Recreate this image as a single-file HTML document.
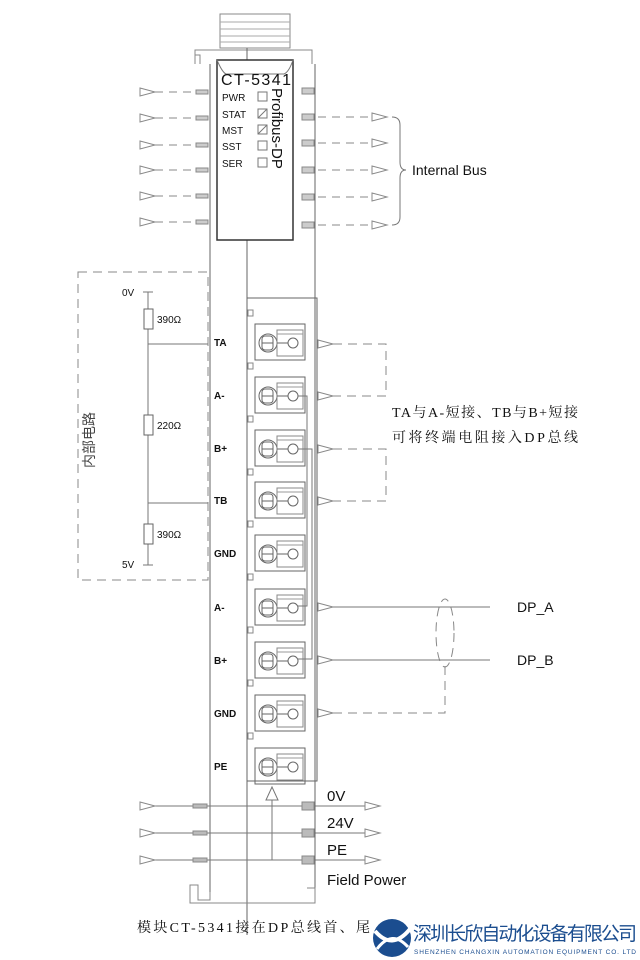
<!DOCTYPE html>
<html><head><meta charset="utf-8"><style>
html,body{margin:0;padding:0;background:#fff;width:640px;height:960px;overflow:hidden}
svg text{font-family:"Liberation Sans","Noto Sans CJK SC",sans-serif;fill:#111;stroke:none}
.s{font-family:"Liberation Serif","Noto Serif CJK SC",serif !important}
</style></head><body>
<svg width="640" height="960" viewBox="0 0 640 960" xmlns="http://www.w3.org/2000/svg" fill="none" stroke="#777" stroke-width="1">
<defs>
<g id="tri"><path d="M0,-4 L15,0 L0,4 Z" fill="#fff" stroke="#888"/></g>
<g id="term">
 <rect x="0" y="-18" width="50" height="36" stroke="#666"/>
 <circle cx="13" cy="1" r="9" stroke="#666"/>
 <rect x="7" y="-6" width="11" height="14" rx="3" stroke="#666"/>
 <line x1="7" y1="1" x2="18" y2="1" stroke="#666"/>
 <rect x="22" y="-12" width="26" height="26" stroke="#888"/>
 <line x1="22" y1="-8" x2="48" y2="-8" stroke="#999"/>
 <circle cx="38" cy="1" r="5" stroke="#666"/>
 <line x1="22" y1="1" x2="33" y2="1" stroke="#666"/>
</g>
</defs>
<rect x="220" y="14" width="70" height="34" stroke="#888"/>
<g stroke="#aaa"><line x1="220" y1="22" x2="290" y2="22"/><line x1="220" y1="29" x2="290" y2="29"/><line x1="220" y1="36" x2="290" y2="36"/><line x1="220" y1="42" x2="290" y2="42"/></g>
<path d="M195,64 L195,50 L312,50 L312,64" stroke="#888"/>
<path d="M195,64 L195,55 L200,55 L200,64" stroke="#888"/>
<path d="M210,64 L210,892 M315,64 L315,800" stroke="#666"/>
<line x1="247" y1="48" x2="247" y2="60" stroke="#666"/>
<line x1="247" y1="240" x2="247" y2="935" stroke="#666"/>
<rect x="217" y="60" width="76" height="180" stroke="#333" stroke-width="1.5"/>
<path d="M217,60 Q222,72 226,74 L284,74 Q289,72 293,60" stroke="#777"/>
<text x="221" y="85" font-size="16" textLength="70">CT-5341</text>
<g font-size="10"><text x="222" y="101">PWR</text><text x="222" y="118">STAT</text><text x="222" y="134">MST</text><text x="222" y="150">SST</text><text x="222" y="167">SER</text></g>
<g stroke="#777"><rect x="258" y="92" width="9" height="9"/><rect x="258" y="109" width="9" height="9"/><rect x="258" y="125" width="9" height="9"/><rect x="258" y="141" width="9" height="9"/><rect x="258" y="158" width="9" height="9"/>
<line x1="258" y1="118" x2="267" y2="109"/><line x1="258" y1="134" x2="267" y2="125"/></g>
<text transform="translate(272,88) rotate(90)" font-size="15">Profibus-DP</text>
<g fill="#ccc" stroke="#888">
<rect x="302" y="88" width="12" height="6"/><rect x="302" y="114" width="12" height="6"/><rect x="302" y="140" width="12" height="6"/><rect x="302" y="167" width="12" height="6"/><rect x="302" y="194" width="12" height="6"/><rect x="302" y="222" width="12" height="6"/>
</g>
<g stroke="#888" stroke-dasharray="8,6">
<line x1="318" y1="117" x2="370" y2="117"/><line x1="318" y1="143" x2="370" y2="143"/><line x1="318" y1="170" x2="370" y2="170"/><line x1="318" y1="197" x2="370" y2="197"/><line x1="318" y1="225" x2="370" y2="225"/>
</g>
<use href="#tri" x="372" y="117"/><use href="#tri" x="372" y="143"/><use href="#tri" x="372" y="170"/><use href="#tri" x="372" y="197"/><use href="#tri" x="372" y="225"/>
<path d="M392,117 Q400,117 400,125 L400,162 Q400,170 406,170 Q400,170 400,178 L400,217 Q400,225 392,225" stroke="#777"/>
<text x="412" y="175" font-size="14">Internal Bus</text>
<g fill="#ccc" stroke="#888"><rect x="196" y="90" width="12" height="4"/><rect x="196" y="116" width="12" height="4"/><rect x="196" y="143" width="12" height="4"/><rect x="196" y="168" width="12" height="4"/><rect x="196" y="194" width="12" height="4"/><rect x="196" y="220" width="12" height="4"/></g>
<g stroke="#888" stroke-dasharray="8,6">
<line x1="155" y1="92" x2="196" y2="92"/><line x1="155" y1="118" x2="196" y2="118"/><line x1="155" y1="145" x2="196" y2="145"/><line x1="155" y1="170" x2="196" y2="170"/><line x1="155" y1="196" x2="196" y2="196"/><line x1="155" y1="222" x2="196" y2="222"/>
</g>
<use href="#tri" x="140" y="92"/><use href="#tri" x="140" y="118"/><use href="#tri" x="140" y="145"/><use href="#tri" x="140" y="170"/><use href="#tri" x="140" y="196"/><use href="#tri" x="140" y="222"/>
<rect x="247" y="298" width="70" height="483" stroke="#666"/>
<use href="#term" x="255" y="342"/><use href="#term" x="255" y="395"/><use href="#term" x="255" y="448"/><use href="#term" x="255" y="500"/><use href="#term" x="255" y="553"/><use href="#term" x="255" y="607"/><use href="#term" x="255" y="660"/><use href="#term" x="255" y="713"/><use href="#term" x="255" y="766"/>
<g stroke="#888"><rect x="248" y="310" width="5" height="6"/><rect x="248" y="363" width="5" height="6"/><rect x="248" y="416" width="5" height="6"/><rect x="248" y="469" width="5" height="6"/><rect x="248" y="521" width="5" height="6"/><rect x="248" y="574" width="5" height="6"/><rect x="248" y="627" width="5" height="6"/><rect x="248" y="680" width="5" height="6"/><rect x="248" y="733" width="5" height="6"/></g>
<g font-size="10" font-weight="bold"><text x="214" y="346">TA</text><text x="214" y="399">A-</text><text x="214" y="452">B+</text><text x="214" y="504">TB</text><text x="214" y="557">GND</text><text x="214" y="611">A-</text><text x="214" y="664">B+</text><text x="214" y="717">GND</text><text x="214" y="770">PE</text></g>
<path d="M298,396 H307 V606 H298" stroke="#777"/>
<path d="M298,449 H312 V659 H298" stroke="#777"/>
<g fill="#fff"><use href="#tri" x="318" y="344"/><use href="#tri" x="318" y="396"/><use href="#tri" x="318" y="449"/><use href="#tri" x="318" y="501"/><use href="#tri" x="318" y="607"/><use href="#tri" x="318" y="660"/><use href="#tri" x="318" y="713"/></g>
<g stroke="#888" stroke-dasharray="9,6">
<path d="M333,344 H386 V396 H333"/><path d="M333,449 H386 V501 H333"/>
<path d="M333,713 H445 V666"/>
<ellipse cx="445" cy="633" rx="9" ry="34"/>
</g>
<line x1="333" y1="607" x2="490" y2="607" stroke="#777"/>
<line x1="333" y1="660" x2="490" y2="660" stroke="#777"/>
<text x="517" y="612" font-size="14">DP_A</text>
<text x="517" y="665" font-size="14">DP_B</text>
<text class="s" x="392" y="417" font-size="14" textLength="186" fill="#333">TA与A-短接、TB与B+短接</text>
<text class="s" x="392" y="442" font-size="14" textLength="186" fill="#333">可将终端电阻接入DP总线</text>
<rect x="78" y="272" width="130" height="308" stroke="#888" stroke-dasharray="9,6"/>
<line x1="148" y1="292" x2="148" y2="565" stroke="#777"/>
<line x1="143" y1="292" x2="153" y2="292" stroke="#777"/><line x1="143" y1="565" x2="153" y2="565" stroke="#777"/>
<g fill="#fff" stroke="#666"><rect x="144" y="309" width="9" height="20"/><rect x="144" y="415" width="9" height="20"/><rect x="144" y="524" width="9" height="20"/></g>
<line x1="148" y1="344" x2="208" y2="344" stroke="#777"/>
<line x1="148" y1="503" x2="208" y2="503" stroke="#777"/>
<g font-size="10"><text x="122" y="296">0V</text><text x="122" y="568">5V</text><text x="157" y="323">390Ω</text><text x="157" y="429">220Ω</text><text x="157" y="538">390Ω</text></g>
<text transform="translate(94,440) rotate(-90)" font-size="14" text-anchor="middle" style="fill:#444">内部电路</text>
<g stroke="#777"><line x1="155" y1="806" x2="365" y2="806"/><line x1="155" y1="833" x2="365" y2="833"/><line x1="155" y1="860" x2="365" y2="860"/></g>
<g fill="#bbb" stroke="#888"><rect x="193" y="804" width="14" height="4"/><rect x="193" y="831" width="14" height="4"/><rect x="193" y="858" width="14" height="4"/>
<rect x="302" y="802" width="12" height="8"/><rect x="302" y="829" width="12" height="8"/><rect x="302" y="856" width="12" height="8"/></g>
<use href="#tri" x="140" y="806"/><use href="#tri" x="140" y="833"/><use href="#tri" x="140" y="860"/>
<use href="#tri" x="365" y="806"/><use href="#tri" x="365" y="833"/><use href="#tri" x="365" y="860"/>
<line x1="272" y1="860" x2="272" y2="800" stroke="#777"/>
<path d="M266,800 L272,787 L278,800 Z" fill="#fff" stroke="#777"/>
<path d="M315,800 V890" stroke="#666"/>
<g font-size="15"><text x="327" y="801">0V</text><text x="327" y="828">24V</text><text x="327" y="855">PE</text><text x="327" y="885">Field Power</text></g>
<path d="M210,892 V900 H198 V885 H190 V903 H315 V888 H307" stroke="#888"/>
<text class="s" x="137" y="932" font-size="14" textLength="233" fill="#333">模块CT-5341接在DP总线首、尾</text>
<circle cx="392" cy="938" r="19" fill="#1b4d8f" stroke="none"/>
<path d="M375,931 Q392,951 410,929" stroke="#fff" stroke-width="4"/>
<path d="M377,949 Q392,929 408,947" stroke="#fff" stroke-width="3"/>
<text x="413" y="940" font-size="19" textLength="224" style="fill:#1b4d8f">深圳长欣自动化设备有限公司</text>
<text x="414" y="954" font-size="6.5" textLength="222" style="fill:#1b4d8f">SHENZHEN CHANGXIN AUTOMATION EQUIPMENT CO. LTD</text>
</svg>
</body></html>
